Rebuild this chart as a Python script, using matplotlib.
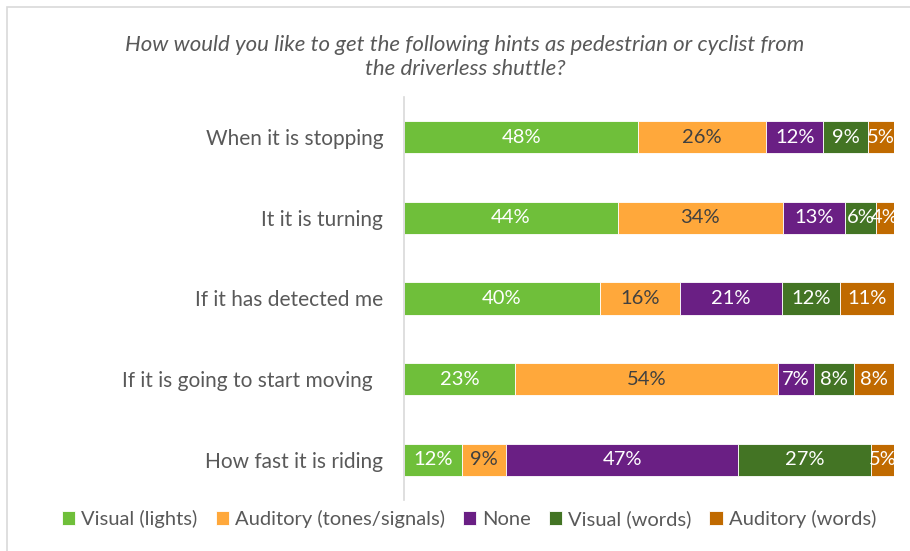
import numpy as np
import matplotlib
matplotlib.use("Agg")
import matplotlib.pyplot as plt
from matplotlib.patches import Rectangle

plt.rcParams["font.family"] = ["Lato", "DejaVu Sans"]

# Data (percent of respondents)
questions = [
    "When it is stopping",
    "It it is turning",
    "If it has detected me",
    "If it is going to start moving  ",
    "How fast it is riding",
]
series_names = ["Visual (lights)", "Auditory (tones/signals)", "None",
                "Visual (words)", "Auditory (words)"]
visual_lights = [47.8, 43.6, 40.0, 22.7, 11.8]
auditory_tones = [26.1, 33.7, 16.3, 53.7, 9.0]
none = [11.7, 12.7, 20.9, 7.3, 47.4]
visual_words = [9.0, 6.3, 11.8, 8.2, 27.2]
auditory_words = [5.4, 3.7, 11.0, 8.1, 4.6]

colors = ["#6FBF3A", "#FFA83B", "#6A1F84", "#437424", "#C06A00"]
label_colors = ["white", "#404040", "white", "white", "white"]

W, H = 910, 551
fig = plt.figure(figsize=(W / 100, H / 100), dpi=100)

# chart-area border (cropped at right/bottom)
fig.patches.append(Rectangle((7 / W, -0.1), 1.2, 1 - 7 / H + 0.1,
                             transform=fig.transFigure, fill=False,
                             edgecolor="#D9D9D9", linewidth=1.2))

ax = fig.add_axes([404 / W, 1 - 500 / H, 490 / W, 403 / H])

y = np.arange(len(questions))
left = np.zeros(len(questions))
all_series = [visual_lights, auditory_tones, none, visual_words, auditory_words]
for name, vals, col, lc in zip(series_names, all_series, colors, label_colors):
    vals = np.array(vals)
    ax.barh(y, vals, left=left, height=0.4, color=col, edgecolor="white",
            linewidth=0.6, label=name)
    for yi, (l, v) in enumerate(zip(left, vals)):
        ax.text(l + v / 2, yi, f"{v:.0f}%", ha="center", va="center",
                fontsize=14.5, color=lc)
    left += vals

ax.set_xlim(0, 100)
ax.set_ylim(len(questions) - 0.5, -0.5)
ax.set_yticks(y)
ax.set_yticklabels(questions, fontsize=15, color="#595959")
ax.tick_params(axis="y", length=0, pad=15)
ax.set_xticks([])
for s in ["top", "right", "bottom"]:
    ax.spines[s].set_visible(False)
ax.spines["left"].set_color("#D9D9D9")
ax.spines["left"].set_linewidth(1.2)

fig.text(465 / W, 1 - 57 / H,
         "How would you like to get the following hints as pedestrian or cyclist from\nthe driverless shuttle?",
         ha="center", va="center", fontsize=16, style="italic",
         color="#595959", linespacing=1.2)

leg = fig.legend(loc="center", bbox_to_anchor=(469 / W, 1 - 519 / H), ncol=5,
                 frameon=False, fontsize=14.5, handlelength=0.65, handleheight=0.65,
                 handletextpad=0.3, columnspacing=0.9, borderaxespad=0)
for t in leg.get_texts():
    t.set_color("#595959")

fig.savefig("out.png", dpi=100)
